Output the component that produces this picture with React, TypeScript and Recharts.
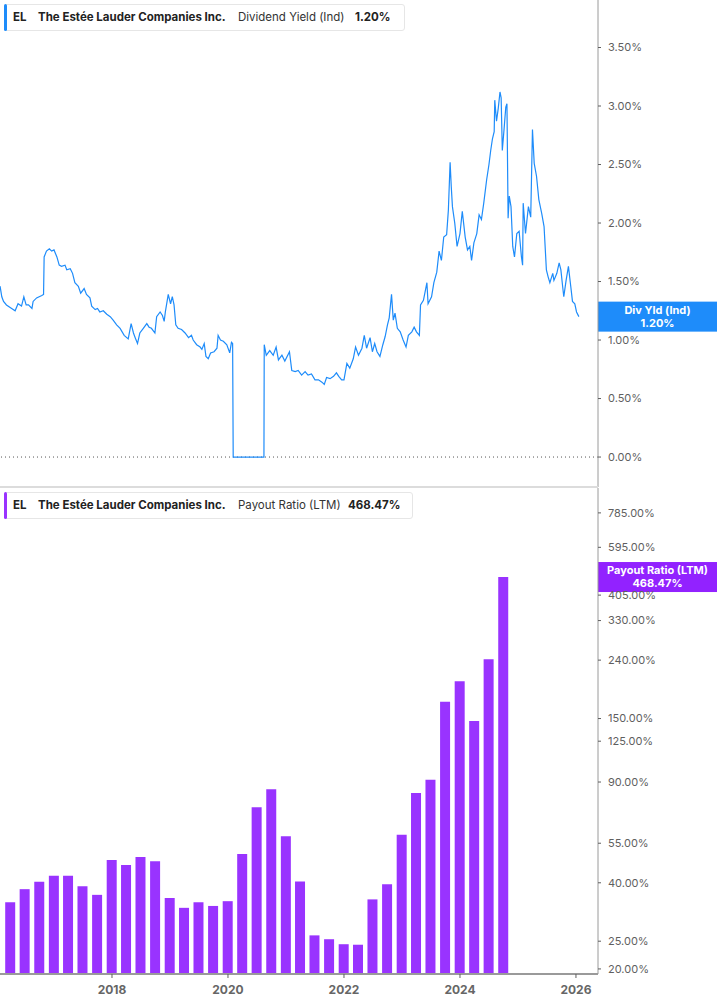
import React from 'react';
import { LineChart, Line, BarChart, Bar, XAxis, YAxis, ReferenceLine } from 'recharts';

// Dividend yield (Ind), in decimal years
const yieldDates = [
  2016.07, 2016.1, 2016.13, 2016.18, 2016.27, 2016.33, 2016.38, 2016.44, 2016.48, 2016.52,
  2016.56, 2016.62, 2016.64, 2016.7, 2016.79, 2016.82, 2016.83, 2016.87, 2016.92, 2016.96,
  2017.0, 2017.05, 2017.09, 2017.13, 2017.19, 2017.22, 2017.28, 2017.32, 2017.36, 2017.42,
  2017.46, 2017.52, 2017.56, 2017.62, 2017.65, 2017.71, 2017.75, 2017.79, 2017.85, 2017.91,
  2017.97, 2018.02, 2018.08, 2018.14, 2018.21, 2018.28, 2018.33, 2018.37, 2018.4, 2018.44,
  2018.48, 2018.54, 2018.6, 2018.64, 2018.68, 2018.74, 2018.77, 2018.83, 2018.87, 2018.9,
  2018.92, 2018.97, 2019.01, 2019.04, 2019.07, 2019.1, 2019.14, 2019.2, 2019.26, 2019.32,
  2019.37, 2019.4, 2019.46, 2019.52, 2019.55, 2019.59, 2019.62, 2019.66, 2019.7, 2019.76,
  2019.81, 2019.83, 2019.87, 2019.92, 2019.98, 2020.03, 2020.06, 2020.08, 2020.09, 2020.62,
  2020.625, 2020.66, 2020.72, 2020.78, 2020.83, 2020.87, 2020.93, 2020.98, 2021.06, 2021.1,
  2021.16, 2021.21, 2021.27, 2021.33, 2021.38, 2021.44, 2021.5, 2021.56, 2021.62, 2021.66,
  2021.7, 2021.76, 2021.82, 2021.87, 2021.91, 2021.96, 2022.0, 2022.05, 2022.1, 2022.16,
  2022.2, 2022.25, 2022.31, 2022.35, 2022.39, 2022.45, 2022.49, 2022.53, 2022.57, 2022.62,
  2022.67, 2022.71, 2022.75, 2022.78, 2022.82, 2022.85, 2022.88, 2022.92, 2022.97, 2023.02,
  2023.07, 2023.11, 2023.17, 2023.21, 2023.25, 2023.3, 2023.32, 2023.37, 2023.43, 2023.45,
  2023.51, 2023.55, 2023.6, 2023.64, 2023.68, 2023.72, 2023.77, 2023.8, 2023.83, 2023.85,
  2023.87, 2023.91, 2023.95, 2024.0, 2024.04, 2024.09, 2024.13, 2024.17, 2024.2, 2024.24,
  2024.29, 2024.33, 2024.37, 2024.41, 2024.46, 2024.5, 2024.53, 2024.56, 2024.59, 2024.6,
  2024.63, 2024.66, 2024.69, 2024.71, 2024.73, 2024.76, 2024.79, 2024.81, 2024.83, 2024.85,
  2024.88, 2024.91, 2024.94, 2024.98, 2025.02, 2025.06, 2025.08, 2025.09, 2025.13, 2025.18,
  2025.22, 2025.25, 2025.28, 2025.32, 2025.36, 2025.41, 2025.45, 2025.49, 2025.52, 2025.55,
  2025.6, 2025.62, 2025.67, 2025.71, 2025.74, 2025.77, 2025.79, 2025.83, 2025.87, 2025.91,
  2025.94, 2025.98, 2026.01, 2026.05,
];
const yieldValues = [
  1.46, 1.37, 1.33, 1.3, 1.27, 1.25, 1.31, 1.29, 1.37, 1.3,
  1.3, 1.27, 1.33, 1.36, 1.38, 1.39, 1.71, 1.76, 1.78, 1.76,
  1.77, 1.71, 1.64, 1.63, 1.64, 1.6, 1.61, 1.57, 1.49, 1.46,
  1.4, 1.44, 1.39, 1.36, 1.29, 1.26, 1.27, 1.24, 1.25, 1.22,
  1.2, 1.17, 1.13, 1.1, 1.04, 1.01, 1.14, 1.06, 1.02, 0.97,
  1.06, 1.1, 1.14, 1.11, 1.1, 1.06, 1.2, 1.24, 1.21, 1.16,
  1.24, 1.39, 1.31, 1.37, 1.3, 1.13, 1.1, 1.09, 1.06, 1.02,
  1.04, 1.0, 0.96, 0.94, 0.92, 0.97, 0.86, 0.84, 0.89, 0.9,
  0.93, 1.04, 1.0, 0.99, 0.96, 0.89, 0.98, 0.97, 0, 0,
  0.96, 0.87, 0.91, 0.87, 0.94, 0.83, 0.87, 0.82, 0.9, 0.74,
  0.73, 0.74, 0.7, 0.73, 0.7, 0.71, 0.66, 0.66, 0.64, 0.62,
  0.68, 0.67, 0.69, 0.72, 0.69, 0.66, 0.66, 0.8, 0.76, 0.84,
  0.94, 0.87, 0.93, 1.04, 0.93, 1.02, 0.9, 0.97, 0.9, 0.86,
  0.96, 1.03, 1.13, 1.19, 1.39, 1.17, 1.23, 1.1, 1.07, 1.0,
  0.94, 1.04, 1.07, 1.11, 1.07, 1.04, 1.3, 1.34, 1.49, 1.31,
  1.37, 1.49, 1.58, 1.76, 1.68, 1.88, 1.9, 2.11, 2.52, 2.31,
  2.14, 2.0, 1.8, 1.91, 2.1, 1.88, 1.77, 1.8, 1.68, 1.83,
  1.91, 2.07, 2.03, 2.17, 2.37, 2.5, 2.62, 2.72, 2.78, 3.05,
  2.87, 2.98, 3.12, 3.07, 2.62, 2.8, 2.99, 3.02, 2.04, 2.23,
  2.14, 1.8, 1.71, 1.91, 1.93, 1.71, 1.64, 2.17, 1.91, 2.14,
  2.05, 2.8, 2.51, 2.4, 2.2, 2.08, 1.97, 1.6, 1.54, 1.49,
  1.57, 1.51, 1.57, 1.66, 1.6, 1.46, 1.37, 1.51, 1.63, 1.46,
  1.33, 1.31, 1.24, 1.2,
];

// Payout ratio (LTM), quarterly
const payoutDates = [
  '2016-03-31', '2016-06-30', '2016-09-30', '2016-12-31',
  '2017-03-31', '2017-06-30', '2017-09-30', '2017-12-31',
  '2018-03-31', '2018-06-30', '2018-09-30', '2018-12-31',
  '2019-03-31', '2019-06-30', '2019-09-30', '2019-12-31',
  '2020-03-31', '2020-06-30', '2020-09-30', '2020-12-31',
  '2021-03-31', '2021-06-30', '2021-09-30', '2021-12-31',
  '2022-03-31', '2022-06-30', '2022-09-30', '2022-12-31',
  '2023-03-31', '2023-06-30', '2023-09-30', '2023-12-31',
  '2024-03-31', '2024-06-30', '2024-09-30',
];
const payoutValues = [
  34.2, 38.0, 40.3, 42.3, 42.3, 38.9, 36.3, 48.1, 46.2, 49.2,
  47.6, 35.4, 32.7, 34.2, 33.2, 34.5, 50.4, 73.5, 84.9, 58.2,
  40.4, 26.2, 25.4, 24.4, 24.3, 35.0, 39.5, 58.9, 82.4, 91.7,
  171.8, 202.4, 147.1, 241.6, 468.47,
];

const yieldTicks = [0, 0.5, 1, 1.5, 2, 2.5, 3, 3.5];
const payoutTicks = [20, 25, 40, 55, 90, 125, 150, 240, 330, 405, 595, 785];
const yearTicks = [2018, 2020, 2022, 2024, 2026];

const palette = {
  blue: '#1e8cfa',
  purple: '#9933ff',
  tagPurple: '#9222ff',
  axis: '#9a9a9a',
  tick: '#5f5f5f',
};

const xDomain = [2016.069, 2026.38];

function toYear(iso: string) {
  const d = new Date(iso + 'T00:00:00Z');
  const start = Date.UTC(d.getUTCFullYear(), 0, 1);
  return d.getUTCFullYear() + (d.getTime() - start) / (365.25 * 864e5);
}

const yieldData = yieldDates.map((t, i) => ({ t, v: yieldValues[i] }));
const payoutData = payoutDates.map((d, i) => ({ t: toYear(d), v: payoutValues[i] }));

const pct = (v: number) => `${v.toFixed(2)}%`;

// price-tag style box sitting on the right axis at the last value
const ValueTag = (props: any) => {
  const { viewBox, title, value, color } = props;
  const x = viewBox.x + viewBox.width;
  const y = viewBox.y;
  return (
    <g>
      <rect x={x} y={y - 15} width={119} height={30} fill={color} />
      <text x={x + 59.5} y={y - 3} textAnchor="middle" fill="#fff" fontSize={11} fontWeight={700}>
        {title}
      </text>
      <text x={x + 59.5} y={y + 10} textAnchor="middle" fill="#fff" fontSize={11} fontWeight={700}>
        {value}
      </text>
    </g>
  );
};

const LegendBox = ({ top, width, color, metric, value, valueLeft }: any) => (
  <div
    style={{
      position: 'absolute',
      left: 4,
      top,
      width,
      height: 25,
      background: '#fff',
      border: '1px solid #e6e6e6',
      borderRadius: 3,
      fontSize: 11.5,
      color: '#222',
      lineHeight: '25px',
    }}
  >
    <div style={{ position: 'absolute', left: -1, top: -1, width: 3, height: 27, background: color, borderRadius: 2 }} />
    <span style={{ position: 'absolute', left: 8, fontWeight: 700 }}>EL</span>
    <span style={{ position: 'absolute', left: 33, fontWeight: 700 }}>The Estée Lauder Companies Inc.</span>
    <span style={{ position: 'absolute', left: 233, color: '#333' }}>{metric}</span>
    <span style={{ position: 'absolute', left: valueLeft, fontWeight: 700 }}>{value}</span>
  </div>
);

export default function App() {
  return (
    <div
      style={{
        position: 'absolute',
        left: 0,
        top: 0,
        width: 717,
        height: 1005,
        background: '#fff',
        fontFamily: 'Inter, "Noto Sans", sans-serif',
        overflow: 'hidden',
      }}
    >
      <div style={{ position: 'absolute', left: 0, top: 0 }}>
        <LineChart width={717} height={487} data={yieldData} margin={{ top: 0, right: 0, bottom: 0, left: 0 }}>
          <XAxis dataKey="t" type="number" domain={xDomain} allowDataOverflow hide />
          <YAxis
            orientation="right"
            width={119}
            type="number"
            domain={[-0.256, 3.906]}
            allowDataOverflow
            ticks={yieldTicks}
            tickFormatter={pct}
            tickSize={3}
            tickMargin={7}
            axisLine={{ stroke: palette.axis }}
            tickLine={{ stroke: palette.tick }}
            tick={{ fill: palette.tick, fontSize: 11 }}
          />
          <ReferenceLine y={0} stroke="#555" strokeDasharray="1 3" />
          <Line
            type="linear"
            dataKey="v"
            stroke={palette.blue}
            strokeWidth={1.2}
            strokeLinecap="butt"
            dot={false}
            activeDot={false}
            isAnimationActive={false}
          />
          <ReferenceLine
            y={yieldValues[yieldValues.length - 1]}
            stroke="none"
            label={<ValueTag title="Div Yld (Ind)" value={pct(yieldValues[yieldValues.length - 1])} color={palette.blue} />}
          />
        </LineChart>
      </div>

      <div style={{ position: 'absolute', left: 0, top: 486, width: 598, height: 2, background: '#dcdcdc' }} />

      <div style={{ position: 'absolute', left: 0, top: 488 }}>
        <BarChart width={717} height={517} data={payoutData} margin={{ top: 0, right: 0, bottom: 0, left: 0 }} barSize={10}>
          <XAxis
            dataKey="t"
            type="number"
            domain={xDomain}
            allowDataOverflow
            ticks={yearTicks}
            height={31}
            tickSize={4}
            tickMargin={7}
            axisLine={{ stroke: palette.axis, strokeWidth: 2 }}
            tickLine={{ stroke: palette.tick }}
            tick={{ fill: '#666', fontSize: 12, fontWeight: 700 }}
          />
          <YAxis
            orientation="right"
            width={119}
            type="number"
            scale="log"
            domain={[19.2, 959]}
            allowDataOverflow
            ticks={payoutTicks}
            tickFormatter={pct}
            tickSize={3}
            tickMargin={7}
            axisLine={{ stroke: palette.axis }}
            tickLine={{ stroke: palette.tick }}
            tick={{ fill: palette.tick, fontSize: 11 }}
          />
          <Bar dataKey="v" fill={palette.purple} isAnimationActive={false} />
          <ReferenceLine
            y={payoutValues[payoutValues.length - 1]}
            stroke="none"
            label={<ValueTag title="Payout Ratio (LTM)" value={pct(payoutValues[payoutValues.length - 1])} color={palette.tagPurple} />}
          />
        </BarChart>
      </div>

      <LegendBox top={4} width={399} color={palette.blue} metric="Dividend Yield (Ind)" value="1.20%" valueLeft={350} />
      <LegendBox top={492} width={407} color={palette.purple} metric="Payout Ratio (LTM)" value="468.47%" valueLeft={343} />
    </div>
  );
}
